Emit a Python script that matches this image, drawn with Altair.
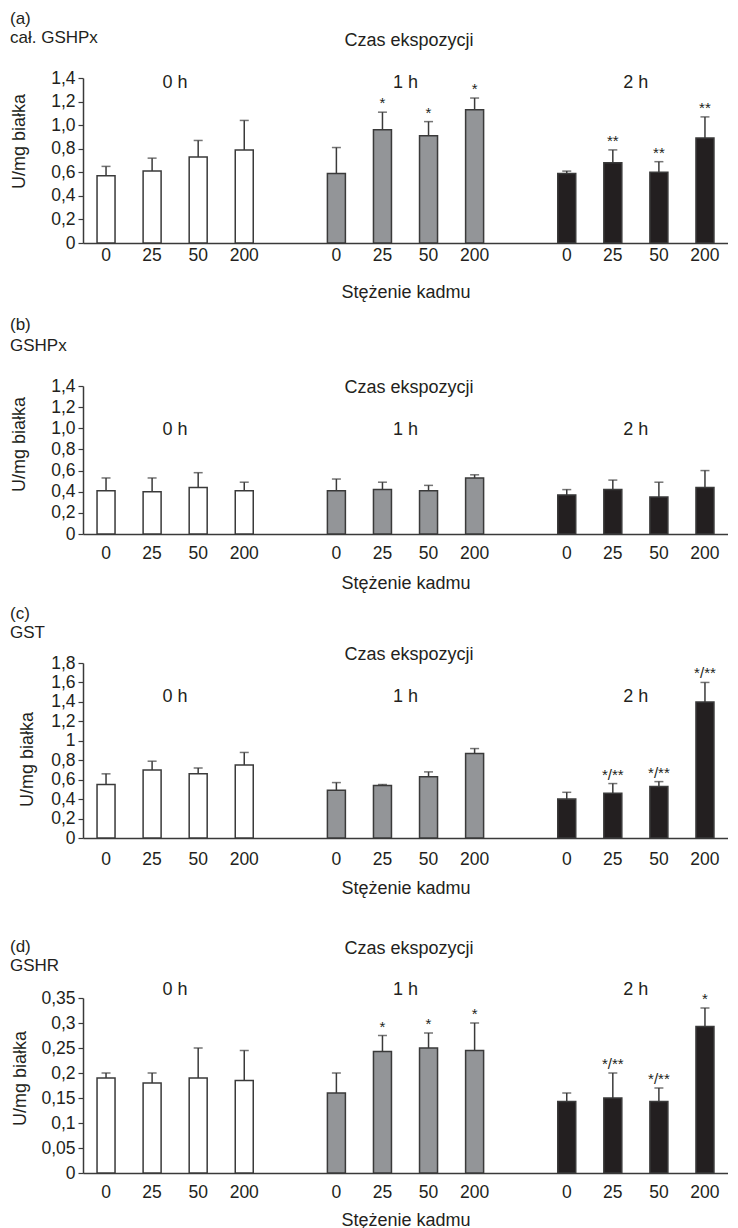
import altair as alt
import pandas as pd

# ---------------- data ----------------
times = ["0 h", "1 h", "2 h"]
concentrations = ["0", "25", "50", "200"]
time_colors = ["#ffffff", "#939598", "#231f20"]

# (a) cał. GSHPx
a_mean = [0.57, 0.61, 0.73, 0.79, 0.59, 0.96, 0.91, 1.13, 0.59, 0.68, 0.60, 0.89]
a_sd = [0.08, 0.11, 0.14, 0.25, 0.22, 0.15, 0.12, 0.10, 0.02, 0.11, 0.09, 0.18]
a_sig = ["", "", "", "", "", "*", "*", "*", "", "**", "**", "**"]

# (b) GSHPx
b_mean = [0.41, 0.40, 0.44, 0.41, 0.41, 0.42, 0.41, 0.53, 0.37, 0.42, 0.35, 0.44]
b_sd = [0.12, 0.13, 0.14, 0.08, 0.11, 0.07, 0.05, 0.03, 0.05, 0.09, 0.14, 0.16]
b_sig = ["", "", "", "", "", "", "", "", "", "", "", ""]

# (c) GST
c_mean = [0.55, 0.70, 0.66, 0.75, 0.49, 0.54, 0.63, 0.87, 0.40, 0.46, 0.53, 1.40]
c_sd = [0.11, 0.09, 0.06, 0.13, 0.08, 0.01, 0.05, 0.05, 0.07, 0.10, 0.05, 0.20]
c_sig = ["", "", "", "", "", "", "", "", "", "*/**", "*/**", "*/**"]

# (d) GSHR
d_mean = [0.19, 0.18, 0.19, 0.185, 0.16, 0.243, 0.25, 0.245, 0.143, 0.15, 0.143, 0.293]
d_sd = [0.01, 0.02, 0.06, 0.06, 0.04, 0.032, 0.03, 0.055, 0.017, 0.05, 0.027, 0.037]
d_sig = ["", "", "", "", "", "*", "*", "*", "", "*/**", "*/**", "*"]

ticks_ab = [0, 0.2, 0.4, 0.6, 0.8, 1.0, 1.2, 1.4]
ticks_c = [0, 0.2, 0.4, 0.6, 0.8, 1.0, 1.2, 1.4, 1.6, 1.8]
ticks_d = [0, 0.05, 0.1, 0.15, 0.2, 0.25, 0.3, 0.35]

# ---------------- helpers ----------------
slots = []
for ti, t in enumerate(times):
    for c in concentrations:
        slots.append(f"{t}|{c}")
    if ti < len(times) - 1:
        slots.append(f"gap{ti}")

INK = "#231f20"
LINE = "#3a3a3a"
FONT = "Liberation Sans"
W = 645


def make_df(means, sds, sigs):
    rows = []
    k = 0
    for t in times:
        for c in concentrations:
            rows.append({"slot": f"{t}|{c}", "time": t, "conc": c,
                         "mean": means[k], "top": means[k] + sds[k], "sig": sigs[k]})
            k += 1
    return pd.DataFrame(rows)


def panel(letter, name, means, sds, sigs, ymax, ticks, label_expr, cfg):
    df = make_df(means, sds, sigs)
    xscale = alt.Scale(domain=slots, paddingInner=0, paddingOuter=0)
    xaxis = alt.Axis(
        title="Stężenie kadmu",
        labelExpr="indexof(datum.value, '|') > 0 ? split(datum.value, '|')[1] : ''",
        ticks=False, tickSize=0, labelAngle=0, labelPadding=cfg["lp"],
        labelOverlap=False,
        titleY=cfg["xty"], titleBaseline="alphabetic",
    )
    xenc = alt.X("slot:N", scale=xscale, axis=xaxis)
    yscale = alt.Scale(domain=[0, ymax], range=[cfg["H"], cfg["top"]], nice=False, zero=True)
    yaxis = alt.Axis(
        title="U/mg białka", values=ticks, tickCount=len(ticks), labelExpr=label_expr,
        tickSize=5, labelPadding=3, grid=False,
        labelOverlap=False, labelFlush=False, labelBound=False,
        titleX=cfg["ytx"], titleY=cfg["yty"], titleBaseline="middle",
    )

    def yenc(field):
        return alt.Y(f"{field}:Q", scale=yscale, axis=yaxis, title="U/mg białka")

    bars = alt.Chart(df).mark_bar(size=18, stroke=LINE, strokeWidth=1.5).encode(
        x=xenc, y=yenc("mean"),
        color=alt.Color("time:N", scale=alt.Scale(domain=times, range=time_colors), legend=None),
    )
    err = alt.Chart(df).mark_rule(color=LINE, strokeWidth=1.5).encode(
        x=xenc, y=yenc("mean"), y2="top:Q")
    cap = alt.Chart(df).mark_tick(color=LINE, size=9, thickness=1.5).encode(
        x=xenc, y=yenc("top"))
    stars = alt.Chart(df).mark_text(baseline="alphabetic", dy=-4, fontSize=15, color=INK).encode(
        x=xenc, y=yenc("top"), text="sig:N")

    grp_df = pd.DataFrame({"slot": [f"{t}|25" for t in times], "label": times})
    grp = alt.Chart(grp_df).mark_text(dx=23, fontSize=18, color=INK, baseline="middle").encode(
        x=xenc, y=alt.value(cfg["gy"]), text="label:N")

    hdr_df = pd.DataFrame({"letter": [letter], "name": [name], "czas": ["Czas ekspozycji"]})
    h_letter = alt.Chart(hdr_df).mark_text(align="left", baseline="middle", fontSize=17, color=INK).encode(
        x=alt.value(-73), y=alt.value(cfg["ly"]), text="letter:N")
    h_name = alt.Chart(hdr_df).mark_text(align="left", baseline="middle", fontSize=17, color=INK).encode(
        x=alt.value(-73), y=alt.value(cfg["ny"]), text="name:N")
    h_czas = alt.Chart(hdr_df).mark_text(align="center", baseline="middle", fontSize=18, color=INK).encode(
        x=alt.value(326), y=alt.value(cfg["cy"]), text="czas:N")

    return alt.layer(bars, err, cap, stars, grp, h_letter, h_name, h_czas).properties(
        width=W, height=cfg["H"])


expr_1dp = "datum.value == 0 ? '0' : replace(format(datum.value, '.1f'), '.', ',')"
expr_g = "replace(format(datum.value, '~g'), '.', ',')"

pa = panel("(a)", "cał. GSHPx", a_mean, a_sd, a_sig, 1.4, ticks_ab, expr_1dp,
           dict(H=235, top=70, ly=11, ny=30, cy=33, gy=75, ytx=-63.5, yty=133, lp=3.5, xty=54))
pb = panel("(b)", "GSHPx", b_mean, b_sd, b_sig, 1.4, ticks_ab, expr_1dp,
           dict(H=291, top=143, ly=82, ny=103, cy=145, gy=187, ytx=-63.5, yty=201, lp=10.5, xty=54))
pc = panel("(c)", "GST", c_mean, c_sd, c_sig, 1.8, ticks_c, expr_g,
           dict(H=304, top=129, ly=80, ny=99, cy=121, gy=163, ytx=-56, yty=225, lp=12.4, xty=55))
pd_ = panel("(d)", "GSHR", d_mean, d_sd, d_sig, 0.35, ticks_d, expr_g,
            dict(H=335, top=160, ly=109, ny=128, cy=111, gy=152, ytx=-63, yty=240, lp=10.4, xty=52))

chart = alt.vconcat(pa, pb, pc, pd_, spacing=0, bounds="flush").properties(
    padding={"left": 2, "top": 0, "right": 0, "bottom": 0}
).configure_view(stroke=None).configure_axis(
    labelFont=FONT, titleFont=FONT, labelFontSize=17.5, titleFontSize=18,
    titleFontWeight="normal", labelColor=INK, titleColor=INK,
    domainColor=LINE, tickColor=LINE, domainWidth=1.5, tickWidth=1.2,
    labelOverlap=False,
).configure_text(font=FONT)

chart.save("out.html", embed_options={"renderer": "svg", "actions": False})
